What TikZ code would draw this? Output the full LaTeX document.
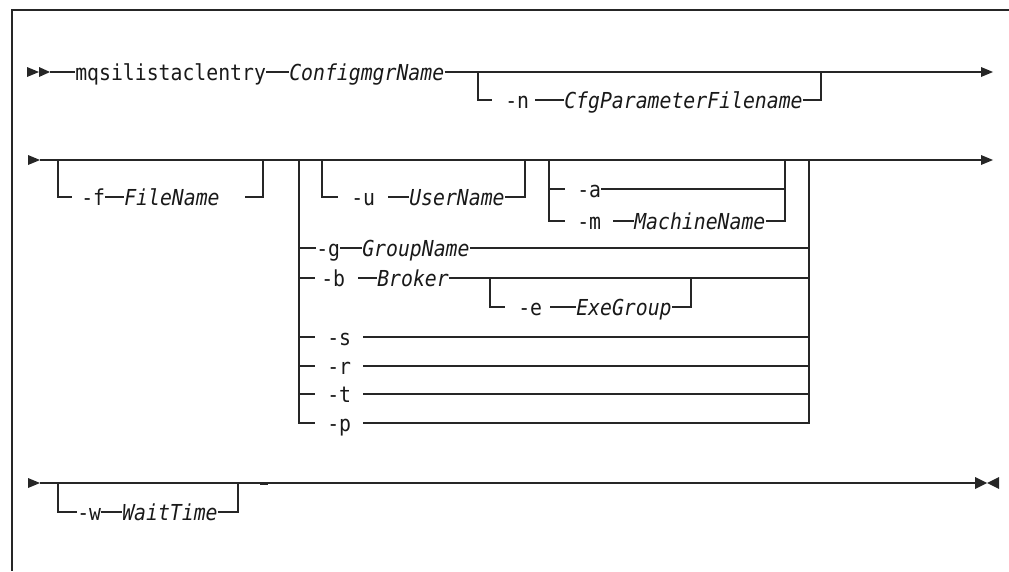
\documentclass[tikz,border=0pt]{standalone}
\usepackage{fontspec}
\newfontfamily\dmono{DejaVu Sans Mono}[FakeStretch=0.9]
\begin{document}
\begin{tikzpicture}[x=0.75pt,y=-0.75pt,
  ln/.style={draw=black!85, line width=0.9pt},
  txt/.style={inner sep=0pt, anchor=west, text height=12pt, text depth=0pt, text=black!90,
    font=\dmono\fontsize{16.5pt}{19pt}\selectfont},
  itx/.style={txt, font=\dmono\fontsize{16.5pt}{19pt}\selectfont\itshape},
  tip/.style={fill=black!85}]
\useasboundingbox (0,0) rectangle (1009,571);
% frame
\draw[ln] (1009,10) -- (12,10) -- (12,571);

% ---------------- Row 1 ----------------
\coordinate (s1) at (50,72);
\coordinate (e1) at (981,72);
\node[txt] (cmd) at (75,72) {mqsilistaclentry};
\node[itx] (cfg) at (289,72) {ConfigmgrName};
\coordinate (n1) at (478,72);
\coordinate (n2) at (492,100);
\node[txt] (nflag) at (505,100) {-n};
\coordinate (n3) at (535,100);
\node[itx] (nname) at (564,100) {CfgParameterFilename};
\coordinate (n4) at (821,72);
\draw[ln] (s1) -- (cmd.west);
\draw[ln] (cmd.east) -- (cfg.west);
\draw[ln] (cfg.east) -- (e1);
\draw[ln] (n1) |- (n2);
\draw[ln] (n3) -- (nname.west);
\draw[ln] (nname.east) -| (n4);
\fill[tip] (27,67) -- (39,72) -- (27,77) -- cycle;
\fill[tip] (39,67) -- (50,72) -- (39,77) -- cycle;
\fill[tip] (e1) ++(0,-5) -- ++(12,5) -- ++(-12,5) -- cycle;

% ---------------- Row 2 ----------------
\coordinate (s2) at (40,160);
\coordinate (e2) at (981,160);
\draw[ln] (s2) -- (e2);
\fill[tip] (28,155) -- (40,160) -- (28,165) -- cycle;
\fill[tip] (e2) ++(0,-5) -- ++(12,5) -- ++(-12,5) -- cycle;
% -f
\coordinate (f1) at (58,160);
\coordinate (f2) at (72,197);
\node[txt] (fflag) at (81,197) {-f};
\node[itx] (fname) at (124,197) {FileName};
\coordinate (f3) at (245,197);
\coordinate (f4) at (263,160);
\draw[ln] (f1) |- (f2);
\draw[ln] (fflag.east) -- (fname.west);
\draw[ln] (f3) -| (f4);
% group frame
\coordinate (g0) at (299,160);
\coordinate (g9) at (809,160);
% -u
\coordinate (u1) at (322,160);
\coordinate (u2) at (338,197);
\node[txt] (uflag) at (351,197) {-u};
\coordinate (u3) at (388,197);
\node[itx] (uname) at (409,197) {UserName};
\coordinate (u4) at (525,160);
\draw[ln] (u1) |- (u2);
\draw[ln] (u3) -- (uname.west);
\draw[ln] (uname.east) -| (u4);
% -a / -m
\coordinate (am0) at (549,160);
\coordinate (am9) at (785,160);
\coordinate (a1) at (565,189);
\node[txt] (aflag) at (577,189) {-a};
\coordinate (a2) at (785,189);
\coordinate (m1) at (565,221);
\node[txt] (mflag) at (577,221) {-m};
\coordinate (m2) at (613,221);
\node[itx] (mname) at (634,221) {MachineName};
\draw[ln] (am0) |- (m1);
\draw[ln] (am0 |- a1) -- (a1);
\draw[ln] (aflag.east) -- (a2);
\draw[ln] (m2) -- (mname.west);
\draw[ln] (mname.east) -| (am9);
% -g
\coordinate (g1) at (299,248);
\node[txt] (gflag) at (316,248) {-g};
\node[itx] (gname) at (362,248) {GroupName};
\coordinate (g2) at (809,248);
\draw[ln] (g1) -- (gflag.west);
\draw[ln] (gflag.east) -- (gname.west);
\draw[ln] (gname.east) -- (g2);
% -b
\coordinate (b1) at (299,278);
\coordinate (b2) at (315,278);
\node[txt] (bflag) at (321,278) {-b};
\coordinate (b3) at (358,278);
\node[itx] (bname) at (377,278) {Broker};
\coordinate (b4) at (809,278);
\draw[ln] (b1) -- (b2);
\draw[ln] (b3) -- (bname.west);
\draw[ln] (bname.east) -- (b4);
% -e
\coordinate (e0) at (490,278);
\coordinate (eA) at (505,307);
\node[txt] (eflag) at (518,307) {-e};
\coordinate (eB) at (550,307);
\node[itx] (ename) at (576,307) {ExeGroup};
\coordinate (eC) at (691,278);
\draw[ln] (e0) |- (eA);
\draw[ln] (eB) -- (ename.west);
\draw[ln] (ename.east) -| (eC);
% -s -r -t
\foreach \nm/\yy/\lab in {s/337/-s, r/366/-r, t/394/-t}{
  \coordinate (\nm1) at (299,\yy);
  \coordinate (\nm2) at (315,\yy);
  \node[txt] (\nm flag) at (327,\yy) {\lab};
  \coordinate (\nm3) at (363,\yy);
  \coordinate (\nm4) at (809,\yy);
  \draw[ln] (\nm1) -- (\nm2);
  \draw[ln] (\nm3) -- (\nm4);
}
% -p (bottom corners)
\coordinate (p2) at (315,423);
\node[txt] (pflag) at (327,423) {-p};
\coordinate (p3) at (363,423);
\draw[ln] (g0) |- (p2);
\draw[ln] (p3) -| (g9);

% ---------------- Row 3 ----------------
\coordinate (s3) at (40,483);
\coordinate (e3) at (975,483);
\draw[ln] (s3) -- (e3);
\fill[tip] (28,478) -- (40,483) -- (28,488) -- cycle;
\fill[tip] (975,477) -- (987,483) -- (975,489) -- cycle;
\fill[tip] (999,477) -- (987,483) -- (999,489) -- cycle;
\coordinate (w1) at (58,483);
\node[txt] (wflag) at (77,512) {-w};
\node[itx] (wname) at (122,512) {WaitTime};
\coordinate (w4) at (238,483);
\draw[ln] (w1) |- (wflag.west);
\draw[ln] (wflag.east) -- (wname.west);
\draw[ln] (wname.east) -| (w4);
\coordinate (dk1) at (260,484.6);
\coordinate (dk2) at (268,484.6);
\draw[ln] (dk1) -- (dk2);
\end{tikzpicture}
\end{document}
